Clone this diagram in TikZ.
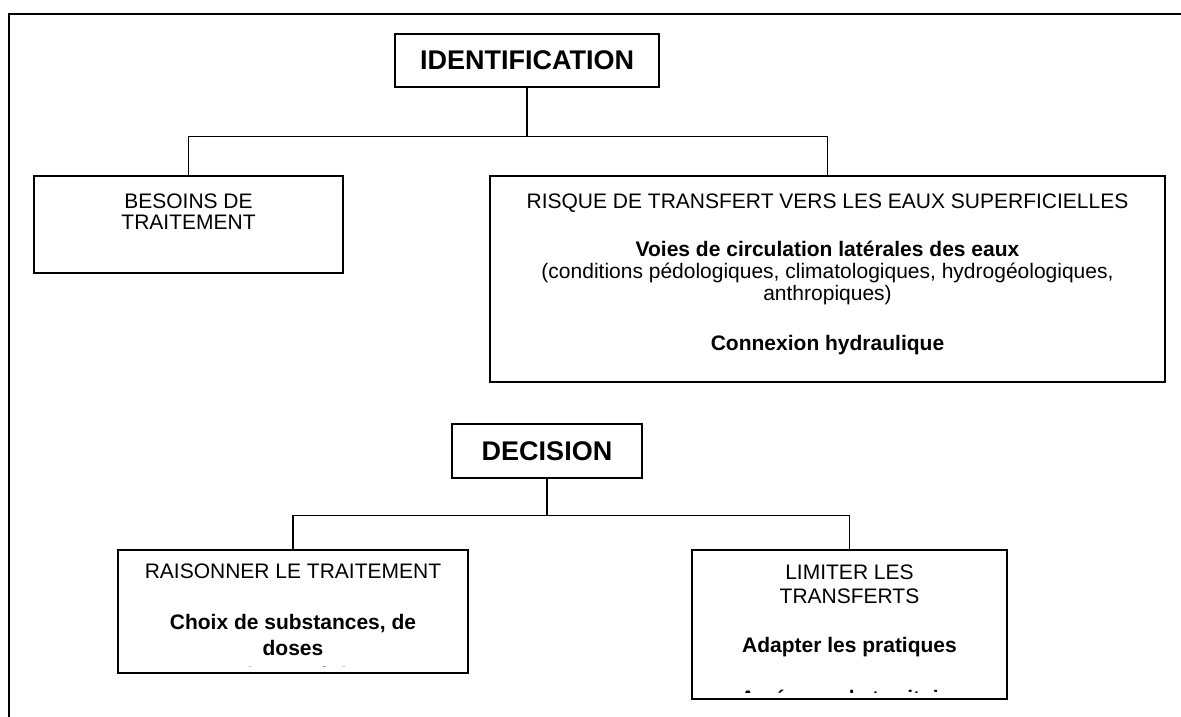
\documentclass[tikz,border=0pt]{standalone}
\usepackage{fontspec}
\setmainfont{Liberation Sans}
\usetikzlibrary{positioning}
\begin{document}
\begin{tikzpicture}[x=1pt,y=1pt,
    box/.style={draw, line width=1.4pt, inner sep=0pt},
    head/.style={font=\fontsize{27}{30}\selectfont\bfseries},
    txt/.style={font=\fontsize{21}{24.5}\selectfont, align=center, anchor=north, inner sep=0pt}]
\useasboundingbox (0,0) rectangle (1181,716);
\clip (0,0) rectangle (1181,716);
\draw[line width=1.6pt] (9,-10) |- (1200,702);

\node[box, head, minimum width=264, minimum height=53] (ident) at (527,655.5) {IDENTIFICATION};
\node[box, minimum width=309, minimum height=97] (besoins) at (188.5,491.5) {};
\node[box, minimum width=675, minimum height=206] (risque) at (827.5,437) {};
\node[box, head, minimum width=190, minimum height=54] (decision) at (547,265) {DECISION};
\node[box, minimum width=350, minimum height=123] (raisonner) at (293,104.5) {};
\node[box, minimum width=315, minimum height=149] (limiter) at (849.5,91.5) {};

\node[txt, font=\fontsize{21}{21}\selectfont, below=18pt of besoins.north] (besoinstxt) {BESOINS DE\\TRAITEMENT};
\node[txt, font=\fontsize{21}{22}\selectfont, below=18pt of risque.north] (risquetxt) {RISQUE DE TRANSFERT VERS LES EAUX SUPERFICIELLES\\[26pt]
    \textbf{Voies de circulation latérales des eaux}\\
    (conditions pédologiques, climatologiques, hydrogéologiques,\\
    anthropiques)\\[28pt]
    \textbf{Connexion hydraulique}};
\begin{scope}
  \clip ([yshift=7pt]raisonner.south west) rectangle (raisonner.north east);
  \node[txt, below=14pt of raisonner.north] (raisonnertxt) {RAISONNER LE TRAITEMENT\\[26.5pt]
      \textbf{Choix de substances, de}\\[1.5pt]
      \textbf{doses}\\[3pt]
      \textbf{et de stratégies}};
\end{scope}
\begin{scope}
  \clip ([yshift=7pt]limiter.south west) rectangle (limiter.north east);
  \node[txt, below=15pt of limiter.north] (limitertxt) {LIMITER LES\\
      TRANSFERTS\\[24.5pt]
      \textbf{Adapter les pratiques}\\[28pt]
      \textbf{Aménager le territoire}};
\end{scope}

\draw[line width=1.4pt] (ident.south) -- ++(0,-49) coordinate (bus1);
\draw[line width=1.4pt] (besoins.north) |- (bus1) -| (risque.north);
\draw[line width=1.4pt] (decision.south) -- ++(0,-37) coordinate (bus2);
\draw[line width=1.4pt] (raisonner.north) |- (bus2) -| (limiter.north);
\end{tikzpicture}
\end{document}
